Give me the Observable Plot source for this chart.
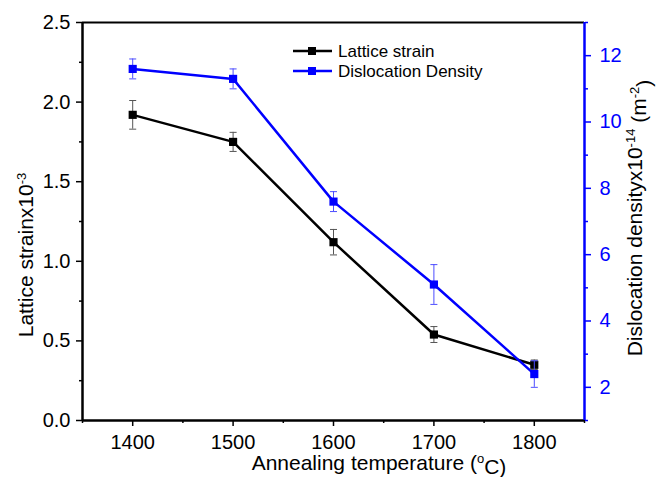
<!DOCTYPE html>
<html><head><meta charset="utf-8">
<script src="https://cdn.jsdelivr.net/npm/d3@7"></script>
<script src="https://cdn.jsdelivr.net/npm/@observablehq/plot@0.6"></script>
<style>body{margin:0;background:#fff}</style>
</head><body><div id="chart"></div>
<script>
const temperatures = [1400, 1500, 1600, 1700, 1800];
const latticeStrain = [1.92, 1.75, 1.12, 0.54, 0.35];
const latticeStrainErr = [0.09, 0.06, 0.08, 0.05, 0.03];
const dislocationDensity = [11.6, 11.3, 7.6, 5.1, 2.4];
const dislocationDensityErr = [0.3, 0.3, 0.3, 0.6, 0.4];
const xTicks = [1400, 1500, 1600, 1700, 1800];
const xMinorTicks = [1350, 1450, 1550, 1650, 1750, 1850];
const leftTicks = [0, 0.5, 1.0, 1.5, 2.0, 2.5];
const leftMinorTicks = [0.25, 0.75, 1.25, 1.75, 2.25];
const rightTicks = [2, 4, 6, 8, 10, 12];
const rightMinorTicks = [1, 3, 5, 7, 9, 11, 13];
const xDomain = [1350, 1850];
const leftDomain = [0, 2.5];
const rightDomain = [1, 13];
const seriesNames = ["Lattice strain", "Dislocation Density"];

const BLUE = "#0000ff";
const toLeft = v => (v - rightDomain[0]) / (rightDomain[1] - rightDomain[0]) * (leftDomain[1] - leftDomain[0]) + leftDomain[0];
const fromLeft = y => (y - leftDomain[0]) / (leftDomain[1] - leftDomain[0]) * (rightDomain[1] - rightDomain[0]) + rightDomain[0];

const strain = temperatures.map((t, i) => ({x: t, y: latticeStrain[i], lo: latticeStrain[i] - latticeStrainErr[i], hi: latticeStrain[i] + latticeStrainErr[i]}));
const disl = temperatures.map((t, i) => ({x: t, y: toLeft(dislocationDensity[i]), lo: toLeft(dislocationDensity[i] - dislocationDensityErr[i]), hi: toLeft(dislocationDensity[i] + dislocationDensityErr[i])}));

const capHalf = 3.5;
function seriesMarks(data, color, errColor) {
  return [
    Plot.line(data, {x: "x", y: "y", stroke: color, strokeWidth: 2.5}),
    Plot.ruleX(data, {x: "x", y1: "lo", y2: "hi", stroke: errColor, strokeWidth: 1}),
    Plot.link(data, {x1: d => d.x - capHalf, x2: d => d.x + capHalf, y1: "lo", y2: "lo", stroke: errColor, strokeWidth: 1}),
    Plot.link(data, {x1: d => d.x - capHalf, x2: d => d.x + capHalf, y1: "hi", y2: "hi", stroke: errColor, strokeWidth: 1}),
    Plot.dot(data, {x: "x", y: "y", symbol: "square", r: 4.6, fill: color, stroke: "none"})
  ];
}

const TF = 20;
const chart = Plot.plot({
  width: 660, height: 477,
  marginLeft: 82, marginRight: 76, marginTop: 22, marginBottom: 57,
  style: {fontFamily: "'Liberation Sans', Arial, sans-serif", fontSize: "16px", background: "#fff", color: "#000"},
  x: {domain: xDomain, label: null},
  y: {domain: leftDomain, label: null},
  marks: [
    Plot.axisX({ticks: xTicks, tickSize: 6, tickPadding: 8, tickFormat: d => String(d), strokeWidth: 1.5, label: null, fontSize: TF}),
    Plot.axisX({ticks: xMinorTicks, tickSize: 3, tickFormat: () => "", strokeWidth: 1.5, label: null}),
    Plot.axisY({ticks: leftTicks, tickSize: 6, tickPadding: 6, tickFormat: d => d.toFixed(1), strokeWidth: 1.5, label: null, fontSize: TF}),
    Plot.axisY({ticks: leftMinorTicks, tickSize: 3, tickFormat: () => "", strokeWidth: 1.5, label: null}),
    Plot.axisY({anchor: "right", ticks: rightTicks.map(toLeft), tickSize: 6, tickPadding: 9, tickFormat: d => String(Math.round(fromLeft(d))), stroke: BLUE, fill: BLUE, color: BLUE, strokeWidth: 1.5, label: null, fontSize: TF}),
    Plot.axisY({anchor: "right", ticks: rightMinorTicks.map(toLeft), tickSize: 3, tickFormat: () => "", stroke: BLUE, strokeWidth: 1.5, label: null}),
    Plot.ruleY([leftDomain[1]], {stroke: "#000", strokeWidth: 2}),
    Plot.ruleY([leftDomain[0]], {stroke: "#000", strokeWidth: 2.5}),
    Plot.ruleX([xDomain[0]], {stroke: "#000", strokeWidth: 2.5}),
    ...seriesMarks(strain, "#000", "#555"),
    ...seriesMarks(disl, BLUE, "#4d4dff"),
    Plot.ruleX([xDomain[1]], {stroke: BLUE, strokeWidth: 2.5})
  ]
});

const svg = d3.select(chart);
const ff = "'Liberation Sans', Arial, sans-serif";
const AF = 21, SF = 13;
const xt = svg.append("text").attr("x", 379).attr("y", 470).attr("text-anchor", "middle")
  .attr("font-family", ff).attr("font-size", AF).attr("fill", "#000");
xt.append("tspan").text("Annealing temperature (");
xt.append("tspan").attr("dy", "-0.55em").attr("font-size", SF).text("o");
xt.append("tspan").attr("dy", "0.55em").text("C)");

const lt = svg.append("text").attr("transform", "translate(33,255) rotate(-90)").attr("text-anchor", "middle")
  .attr("font-family", ff).attr("font-size", AF).attr("fill", "#000");
lt.append("tspan").text("Lattice strainx10");
lt.append("tspan").attr("dy", "-0.55em").attr("font-size", SF).text("-3");

const rt = svg.append("text").attr("transform", "translate(642,218) rotate(-90)").attr("text-anchor", "middle")
  .attr("font-family", ff).attr("font-size", AF).attr("fill", "#000");
rt.append("tspan").text("Dislocation densityx10");
rt.append("tspan").attr("dy", "-0.55em").attr("font-size", SF).text("-14");
rt.append("tspan").attr("dy", "0.55em").text(" (m");
rt.append("tspan").attr("dy", "-0.55em").attr("font-size", SF).text("-2");
rt.append("tspan").attr("dy", "0.55em").text(")");

const legendColors = ["#000", BLUE];
seriesNames.forEach((name, i) => {
  const y = 51 + i * 20;
  svg.append("line").attr("x1", 293).attr("x2", 332).attr("y1", y).attr("y2", y).attr("stroke", legendColors[i]).attr("stroke-width", 2.5);
  svg.append("rect").attr("x", 308).attr("y", y - 4).attr("width", 8).attr("height", 8).attr("fill", legendColors[i]);
  svg.append("text").attr("x", 338).attr("y", y).attr("dy", "0.35em").attr("text-anchor", "start")
    .attr("font-family", ff).attr("font-size", 17).attr("fill", "#000").text(name);
});

document.getElementById("chart").appendChild(chart);
</script>
</body></html>
